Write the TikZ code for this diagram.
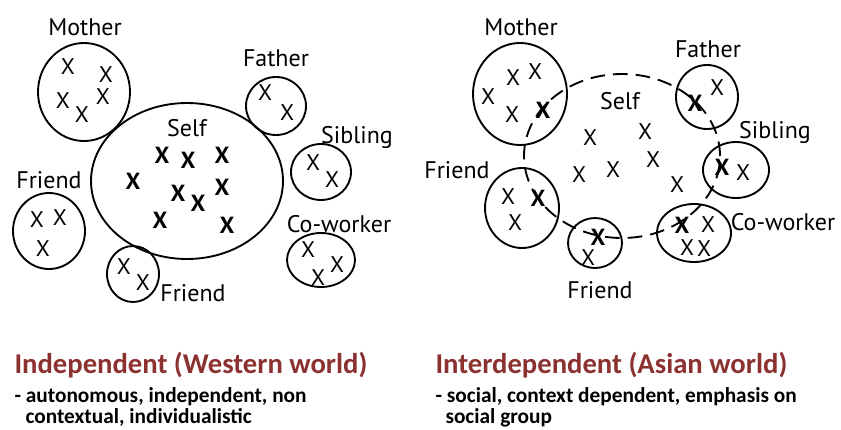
\documentclass[tikz,border=0pt]{standalone}
\usepackage{fontspec}
\setmainfont{Carlito}
\newfontfamily\lblfont{PT Sans}
\usetikzlibrary{shapes.geometric}
\definecolor{headred}{RGB}{139,50,48}
\tikzset{every picture/.style={line width=0.75pt}}
\tikzset{
  grp/.style 2 args={draw, ellipse, line width=1.4pt, inner sep=0pt,
    minimum width=#1*0.75pt, minimum height=#2*0.75pt},
  selfring/.style={dash pattern=on 11pt off 6pt},
  lbl/.style={font=\lblfont\fontsize{18}{20}\selectfont, inner sep=0pt},
  mk/.style={font=\lblfont\fontsize{17}{17}\selectfont, inner sep=0pt},
  bmk/.style={font=\lblfont\bfseries\fontsize{17.5}{17.5}\selectfont, inner sep=0pt},
  head/.style={anchor=base west, inner sep=0pt, text=headred, font=\bfseries\fontsize{21.5}{24}\selectfont},
  desc/.style={anchor=base west, inner sep=0pt, font=\bfseries\fontsize{16}{18}\selectfont}
}

\begin{document}
\begin{tikzpicture}[x=0.75pt,y=0.75pt,yscale=-1,xscale=1]
\useasboundingbox (0,0) rectangle (841,429);

% Independent: circles
\node [grp={92}{98}] (lmother) at (84,92) {};
\node [grp={192}{156}] (lself) at (187,181) {};
\node [grp={60}{58}] (lfather) at (276,106) {};
\node [grp={60}{56}] (lsibling) at (321,172) {};
\node [grp={68}{54}] (lcowork) at (321,260) {};
\node [grp={72}{76}] (lfrienda) at (49,231) {};
\node [grp={52}{56}] (lfriendb) at (133,274) {};

% Independent: labels
\node [lbl] (lmotherlbl) at (85,27) {Mother};
\node [lbl] (lselflbl) at (187,128) {Self};
\node [lbl] (lfatherlbl) at (276,58) {Father};
\node [lbl] (lsiblinglbl) at (357,137) {Sibling};
\node [lbl] (lcoworklbl) at (339,224) {Co-worker};
\node [lbl] (lfriendalbl) at (49,180) {Friend};
\node [lbl] (lfriendblbl) at (193,293) {Friend};

% Independent: members
\foreach \px/\py [count=\i] in {68/67,106/75,63/101,82/115,103/97,
    265/93,287/113, 313/163,332/180, 308/250,337/265,318/278,
    37/220,60/218,43/249, 124/267,143/283}
  \node [mk] (lx\i) at (\px,\py) {X};
\foreach \px/\py [count=\i] in {162/155,188/160,222/155,133/181,178/193,
    198/203,222/187,160/220,227/225}
  \node [bmk] (ls\i) at (\px,\py) {X};

% Interdependent: self ring first, circles on top
\node [grp={196}{164}, selfring] (rself) at (622,156) {};
\node [grp={94}{102}] (rmother) at (520,94) {};
\node [grp={62}{64}] (rfather) at (707,97) {};
\node [grp={66}{56}] (rsibling) at (736,170) {};
\node [grp={74}{58}] (rcowork) at (694,233) {};
\node [grp={74}{80}] (rfrienda) at (522,208) {};
\node [grp={54}{50}] (rfriendb) at (595,243) {};

% Interdependent: labels
\node [lbl] (rmotherlbl) at (521,27) {Mother};
\node [lbl] (rselflbl) at (620,101) {Self};
\node [lbl] (rfatherlbl) at (708,49) {Father};
\node [lbl] (rsiblinglbl) at (775,132) {Sibling};
\node [lbl] (rcoworklbl) at (783,222) {Co-worker};
\node [lbl] (rfriendalbl) at (457,170) {Friend};
\node [lbl] (rfriendblbl) at (600,290) {Friend};

% Interdependent: members
\foreach \px/\py [count=\i] in {488/97,513/78,535/72,512/115,
    717/88, 743/173, 708/225,687/248,704/249, 588/258,
    508/197,515/223, 590/138,645/132,579/175,613/170,653/160,677/185}
  \node [mk] (rx\i) at (\px,\py) {X};
\foreach \px/\py [count=\i] in {543/110,695/103,722/167,682/225,598/237,538/198}
  \node [bmk] (rs\i) at (\px,\py) {X};

% captions
\node [head] (lhead) at (14,373) {Independent (Western world)};
\node [desc] (ldesca) at (14,402) {- autonomous, independent, non};
\node [desc] (ldescb) at (25,423) {contextual, individualistic};
\node [head] (rhead) at (435,373) {Interdependent (Asian world)};
\node [desc] (rdesca) at (435,402) {- social, context dependent, emphasis on};
\node [desc] (rdescb) at (445,423) {social group};

\end{tikzpicture}
\end{document}
